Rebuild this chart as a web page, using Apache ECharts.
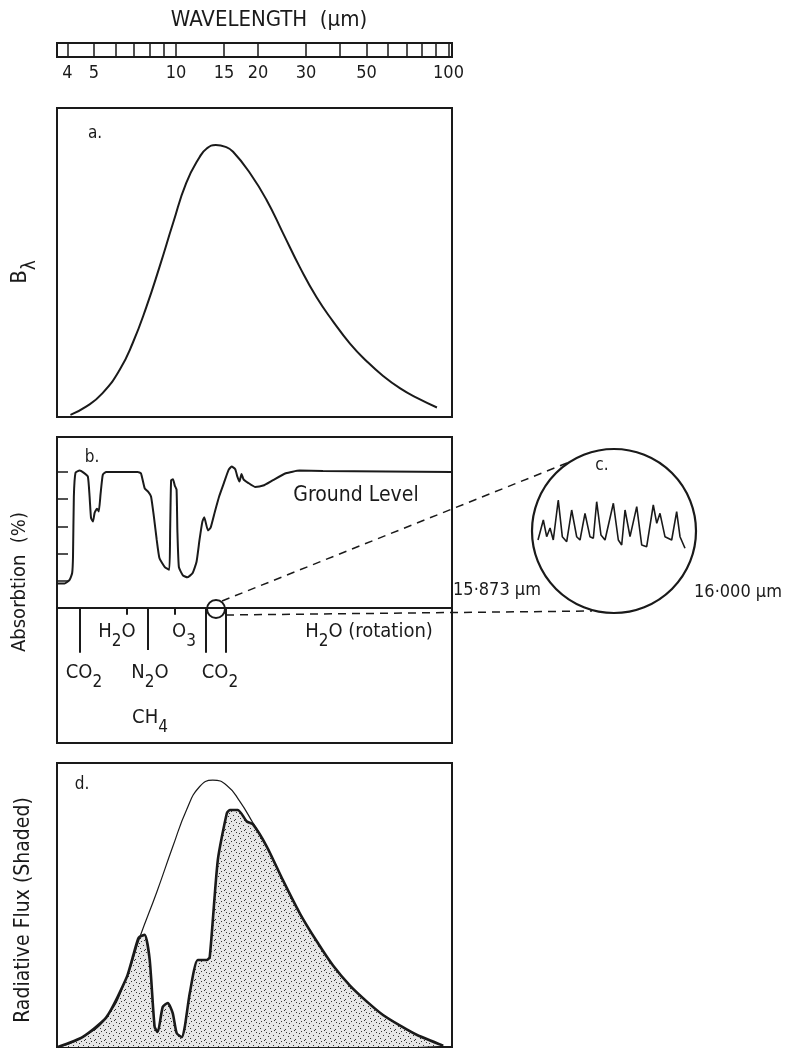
<!DOCTYPE html>
<html>
<head>
<meta charset="utf-8">
<title>Absorption of terrestrial radiation</title>
<script src="https://cdn.jsdelivr.net/npm/echarts@6.0.0/dist/echarts.min.js"></script>
<style>
html, body { margin: 0; padding: 0; background: #fff; }
#main { width: 795px; height: 1051px; }
</style>
</head>
<body>
<div id="main"></div>
<script>
// wavelength scale (um)
var scaleTicks = [4, 5, 6, 7, 8, 9, 10, 15, 20, 30, 40, 50, 60, 70, 80, 90, 100];
var scaleLabels = [4, 5, 10, 15, 20, 30, 50, 100];

// a. black body curve, relative B_lambda (peak = 100)
var waveA = [4.1, 4.68, 5.38, 6.21, 6.94, 7.79, 8.71, 9.76, 10.9, 12.2, 13.0, 14.0, 15.2, 16.2, 18.7, 21.5, 24.7, 28.5, 32.8, 37.8, 43.5, 50.1, 57.7, 66.5, 76.6, 90.7];
var planckA = [0.8, 3.8, 8.8, 17.3, 27.2, 40.5, 55.3, 71.3, 86, 95.5, 98.8, 100, 99.3, 97.5, 89.6, 79.8, 67.6, 55, 44, 35, 27, 20.5, 15, 10.5, 7, 3.5];

// b. absorption at ground level (%)
var waveB = [3.68, 3.9, 4.07, 4.16, 4.19, 4.22, 4.28, 4.43, 4.58, 4.75, 4.82, 4.88, 4.96, 5.03, 5.13, 5.21, 5.29, 5.39, 5.55,
             7.24, 7.44, 7.68, 7.9, 8.1, 8.3, 8.5, 8.7, 9.1, 9.45, 9.52, 9.6, 9.75, 9.9, 10.05, 10.12, 10.25, 10.6, 11.0,
             11.5, 11.9, 12.2, 12.5, 12.7, 13.1, 13.4, 13.9, 14.4, 15.0, 15.6, 16.0, 16.5, 16.8, 17.1, 17.4, 17.7, 18.4,
             19.5, 20.9, 22.7, 25.3, 28.4, 34.6, 103];
var absorb = [18, 18, 20.6, 25.7, 37.7, 82, 99.5, 101, 99.5, 96.6, 82, 66, 63.5, 70, 73, 71, 84, 98, 100,
              100, 99, 88, 85.5, 82, 67, 50, 36.5, 30, 28, 57, 94, 94.6, 90, 87, 57, 30, 24, 22.5,
              25.5, 34, 50, 63.5, 66.7, 57, 59, 71, 82, 92, 101.5, 104, 102, 96.6, 93, 98.5, 94.6, 92,
              89, 90, 94, 99, 101, 100.7, 100];
var absTicks = [20, 40, 60, 80, 100];

// absorbing gases: band marker wavelength and depth below the 0 line
var bandWave = [4.43, 6.59, 7.87, 9.89, 12.86, 15.24];
var bandDepth = [33, 5, 31, 5, 33, 33];

// c. detail of the 15.873 - 16.000 um interval
var waveC = [15.873, 15.8776, 15.8805, 15.8834, 15.8862, 15.8905, 15.894, 15.8978, 15.9021, 15.9064, 15.9093, 15.9136,
             15.9179, 15.9208, 15.9237, 15.9274, 15.9309, 15.9381, 15.9424, 15.9453, 15.9482, 15.9525, 15.954, 15.9583,
             15.9626, 15.9669, 15.9726, 15.9756, 15.9784, 15.9827, 15.9885, 15.9928, 15.9957, 16.0];
var lineC = [10, 30, 13.3, 22, 10, 50, 13.3, 8.3, 40, 13.3, 10, 36.7,
             13.3, 11.7, 48.3, 15, 10, 46.7, 10, 5, 40, 13.3, 11.7, 43.3,
             5, 3.3, 45, 26.7, 36.7, 13.3, 10, 38.3, 13.3, 1.7];

// d. black body envelope and flux reaching the ground (shaded)
var waveD = [3.69, 4.54, 5.56, 6.59, 7.36, 8.5, 9.73, 10.95, 12.2, 13.65, 15.37, 17.15, 19.15, 21.56, 24.68, 28.5, 32.9, 37.7, 43.5, 50.2, 57.5, 66.5, 76.7, 95.6];
var envD = [0, 3.7, 11.2, 26, 41, 58, 75, 89, 97.5, 100, 98, 92, 84, 75, 62.5, 50, 39.5, 30.5, 23, 17, 12, 8, 4.5, 0.5];
var waveF = [3.69, 4.54, 5.56, 6.59, 7.0, 7.3, 7.68, 8.01, 8.35, 8.57, 8.94, 9.33, 9.73, 10.06, 10.5, 10.77, 11.24, 12.02, 12.97, 13.3,
             14.24, 15.37, 15.76, 16.87, 18.2, 19.15, 21.56, 24.68, 28.5, 32.9, 37.7, 43.5, 50.2, 57.5, 66.5, 76.7, 95.6];
var flux = [0, 3.7, 11.2, 26, 35, 41, 42, 32.6, 7.5, 5.6, 15, 16.5, 12.7, 5.2, 3.7, 7.5, 20.2, 32.6, 32.6, 33.7,
            70, 87.6, 88.8, 88.8, 84.5, 83.5, 75, 62.5, 50, 39.5, 30.5, 23, 17, 12, 8, 4.5, 0.5];

var INK = '#1a1a1a';
var FONT = '"DejaVu Sans Condensed", "DejaVu Sans", sans-serif';
var LMIN = Math.log10(3.66), LMAX = Math.log10(103);

function logPairs(xs, ys) {
	return xs.map(function (x, i) { return [Math.log10(x), ys[i]]; });
}

function stipple() {
	var c = document.createElement('canvas');
	c.width = 10; c.height = 10;
	var g = c.getContext('2d');
	g.fillStyle = '#e6e6e6';
	g.fillRect(0, 0, 10, 10);
	g.fillStyle = '#333';
	[[1, 1], [6, 2], [3, 5], [8, 6], [0, 8], [5, 9], [9, 3], [4, 0]].forEach(function (p) {
		g.fillRect(p[0], p[1], 1, 1);
	});
	return c;
}

function txt(x, y, text, size, extra) {
	var el = {
		type: 'text', x: x, y: y, z: 50,
		style: { text: text, fontSize: size, fontFamily: FONT, fill: INK, align: 'center', verticalAlign: 'middle' }
	};
	if (extra) { for (var k in extra) el[k] = extra[k]; }
	return el;
}

// formula with subscripts, e.g. chem(84, 678, [['CO','2']])
function chem(x, y, parts, size, extra) {
	var s = '';
	parts.forEach(function (p) {
		s += '{m|' + p[0] + '}';
		if (p[1]) s += '{s|' + p[1] + '}';
	});
	var el = txt(x, y, s, size, extra);
	el.style.rich = {
		m: { fontSize: size, fontFamily: FONT, fill: INK, padding: [0, 0, 10, 0] },
		s: { fontSize: size - 3, fontFamily: FONT, fill: INK, padding: [10, 0, 0, 0] }
	};
	return el;
}

var bandLines = bandWave.map(function (w, i) {
	return [{ coord: [Math.log10(w), 0] }, { coord: [Math.log10(w), -bandDepth[i]] }];
});

var box = { show: true, borderColor: INK, borderWidth: 2, backgroundColor: 'transparent' };
function panelGrid(top, height) {
	return Object.assign({ left: 57, width: 395, top: top, height: height }, box);
}
function hiddenX(i) { return { gridIndex: i, type: 'value', min: LMIN, max: LMAX, show: false }; }

var myChart = echarts.init(document.getElementById('main'));
var option = {
	backgroundColor: '#fff',
	animation: false,
	grid: [
		{ left: 57, width: 395, top: 43, height: 14, show: true, borderColor: INK, borderWidth: 2 },
		panelGrid(108, 309),
		panelGrid(437, 306),
		panelGrid(763, 284),
		{ left: 538, width: 147, top: 495, height: 55, show: false }
	],
	xAxis: [
		{
			gridIndex: 0, type: 'value', min: LMIN, max: LMAX,
			axisLine: { show: false },
			splitLine: { show: false },
			axisTick: {
				inside: true, length: 14,
				customValues: scaleTicks.map(Math.log10),
				lineStyle: { color: INK, width: 1.5 }
			},
			axisLabel: {
				customValues: scaleLabels.map(Math.log10),
				formatter: function (v) { return String(Math.round(Math.pow(10, v))); },
				fontSize: 18, fontFamily: FONT, color: INK, margin: 7
			}
		},
		hiddenX(1),
		hiddenX(2),
		hiddenX(3),
		{ gridIndex: 4, type: 'value', min: 15.873, max: 16.0, show: false }
	],
	yAxis: [
		{ gridIndex: 0, type: 'value', min: 0, max: 1, show: false },
		{ gridIndex: 1, type: 'value', min: 0, max: 113.6, show: false },
		{
			gridIndex: 2, type: 'value', min: -99.3, max: 125.7,
			axisLine: { show: false },
			splitLine: { show: false },
			axisLabel: { show: false },
			axisTick: { inside: true, length: 11, customValues: absTicks, lineStyle: { color: INK, width: 1.5 } }
		},
		{ gridIndex: 3, type: 'value', min: 0, max: 106.4, show: false },
		{ gridIndex: 4, type: 'value', min: 0, max: 55, show: false }
	],
	series: [
		{
			name: 'B lambda', type: 'line', xAxisIndex: 1, yAxisIndex: 1,
			data: logPairs(waveA, planckA), smooth: 0.5, showSymbol: false,
			lineStyle: { color: INK, width: 2 }
		},
		{
			name: 'Absorption', type: 'line', xAxisIndex: 2, yAxisIndex: 2,
			data: logPairs(waveB, absorb), smooth: 0.15, showSymbol: false,
			lineStyle: { color: INK, width: 2 },
			markLine: {
				silent: true, symbol: 'none', label: { show: false },
				lineStyle: { color: INK, width: 2, type: 'solid' },
				data: [{ yAxis: 0 }].concat(bandLines)
			}
		},
		{
			name: 'Detail', type: 'line', xAxisIndex: 4, yAxisIndex: 4,
			data: waveC.map(function (w, i) { return [w, lineC[i]]; }), showSymbol: false,
			lineStyle: { color: INK, width: 1.6 }
		},
		{
			name: 'Envelope', type: 'line', xAxisIndex: 3, yAxisIndex: 3,
			data: logPairs(waveD, envD), smooth: 0.5, showSymbol: false,
			lineStyle: { color: INK, width: 1.2 }
		},
		{
			name: 'Flux', type: 'line', xAxisIndex: 3, yAxisIndex: 3,
			data: logPairs(waveF, flux), smooth: 0.2, showSymbol: false,
			lineStyle: { color: INK, width: 2.6 },
			areaStyle: { color: { image: stipple(), repeat: 'repeat' }, opacity: 1 }
		}
	],
	graphic: [
		txt(269, 20, 'WAVELENGTH  (\u03bcm)', 22),
		txt(95, 134, 'a.', 17),
		txt(92, 458, 'b.', 17),
		txt(602, 466, 'c.', 17),
		txt(82, 785, 'd.', 17),
		chem(25, 272, [['B', '\u03bb']], 22, { rotation: Math.PI / 2 }),
		txt(20, 582, 'Absorbtion  (%)', 20, { rotation: Math.PI / 2 }),
		txt(24, 910, 'Radiative Flux (Shaded)', 21, { rotation: Math.PI / 2 }),
		txt(356, 496, 'Ground Level', 21),
		chem(117, 637, [['H', '2'], ['O', '']], 20),
		chem(184, 637, [['O', '3']], 20),
		chem(369, 637, [['H', '2'], ['O (rotation)', '']], 20),
		chem(84, 678, [['CO', '2']], 20),
		chem(150, 678, [['N', '2'], ['O', '']], 20),
		chem(220, 678, [['CO', '2']], 20),
		chem(150, 723, [['CH', '4']], 20),
		txt(497, 590, '15\u00b7873 \u03bcm', 18),
		txt(738, 592, '16\u00b7000 \u03bcm', 18),
		{ type: 'circle', z: 40, shape: { cx: 216, cy: 609, r: 9 }, style: { fill: 'none', stroke: INK, lineWidth: 2 } },
		{ type: 'circle', z: 40, shape: { cx: 614, cy: 531, r: 82 }, style: { fill: 'none', stroke: INK, lineWidth: 2.2 } },
		{ type: 'line', z: 40, shape: { x1: 222, y1: 601, x2: 567, y2: 463 }, style: { stroke: INK, lineWidth: 1.5, lineDash: [8, 6] } },
		{ type: 'line', z: 40, shape: { x1: 226, y1: 615, x2: 592, y2: 611 }, style: { stroke: INK, lineWidth: 1.5, lineDash: [8, 6] } }
	]
};
myChart.setOption(option);
</script>
</body>
</html>
